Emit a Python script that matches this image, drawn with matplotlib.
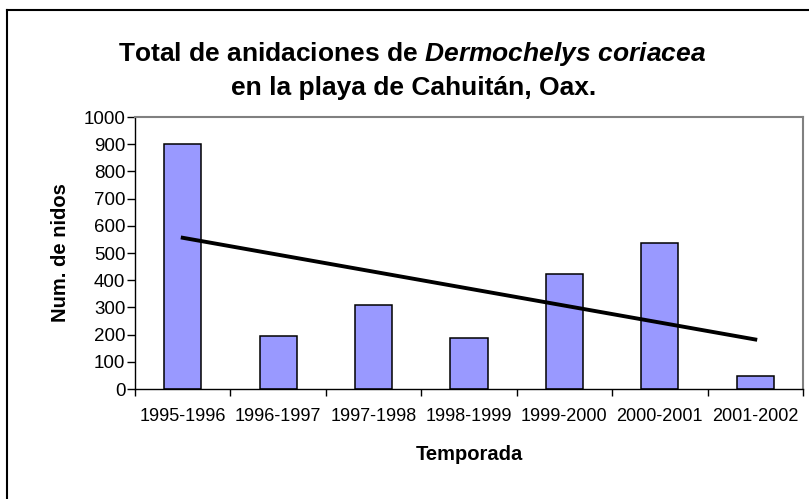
import numpy as np
import matplotlib
matplotlib.use("Agg")
import matplotlib.pyplot as plt
from matplotlib.lines import Line2D

plt.rcParams["font.family"] = ["Liberation Sans", "DejaVu Sans"]
plt.rcParams["mathtext.fontset"] = "custom"
plt.rcParams["mathtext.it"] = "Liberation Sans:italic:bold"
plt.rcParams["mathtext.rm"] = "Liberation Sans:bold"

########## DATA ########
seasons = ["1995-1996", "1996-1997", "1997-1998", "1998-1999",
           "1999-2000", "2000-2001", "2001-2002"]
nests = [900, 195, 310, 188, 422, 537, 48]
trend_ends = [556, 182]   # linear trend line, first and last season
yticks = [0, 100, 200, 300, 400, 500, 600, 700, 800, 900, 1000]
#########################

fig = plt.figure(figsize=(8.09, 4.99), dpi=100)
ax = fig.add_axes([135 / 809, 1 - 389 / 499, 668 / 809, 272 / 499])

x = np.arange(len(seasons))
ax.bar(x, nests, width=0.39, color="#9999ff", edgecolor="black", linewidth=1.1, zorder=2)
ax.plot([x[0], x[-1]], trend_ends, color="black", lw=2.8, zorder=3)

ax.set_xlim(-0.5, len(seasons) - 0.5)
ax.set_ylim(0, 1000)
ax.set_yticks(yticks)
ax.set_xticks(x)
ax.set_xticklabels(seasons)
ax.set_xticks(np.arange(-0.5, len(seasons), 1), minor=True)
ax.tick_params(axis="x", which="major", length=0, labelsize=13, pad=14)
ax.tick_params(axis="x", which="minor", length=5, direction="out", width=1)
ax.tick_params(axis="y", labelsize=13.5, length=6, direction="out", width=1, pad=1)

for side in ["top", "right"]:
    ax.spines[side].set_color("#808080")
    ax.spines[side].set_linewidth(1.5)
for side in ["left", "bottom"]:
    ax.spines[side].set_color("black")
    ax.spines[side].set_linewidth(1.0)

ax.set_xlabel("Temporada", fontsize=14.5, fontweight="bold", labelpad=14)
ax.set_ylabel("Num. de nidos", fontsize=14.5, fontweight="bold", labelpad=10)

fig.text(412 / 809, 1 - 54 / 499, "Total de anidaciones de $\\mathit{Dermochelys\\ coriacea}$",
         ha="center", va="center", fontsize=19, fontweight="bold")
fig.text(414 / 809, 1 - 88 / 499, "en la playa de Cahuitán, Oax.",
         ha="center", va="center", fontsize=19, fontweight="bold")

# chart area border (only top and left visible)
fig.add_artist(Line2D([7 / 809, 1], [1 - 10 / 499, 1 - 10 / 499], color="black", lw=1.5,
                      transform=fig.transFigure))
fig.add_artist(Line2D([7 / 809, 7 / 809], [0, 1 - 10 / 499], color="black", lw=1.5,
                      transform=fig.transFigure))

plt.savefig("out.png", dpi=100)
